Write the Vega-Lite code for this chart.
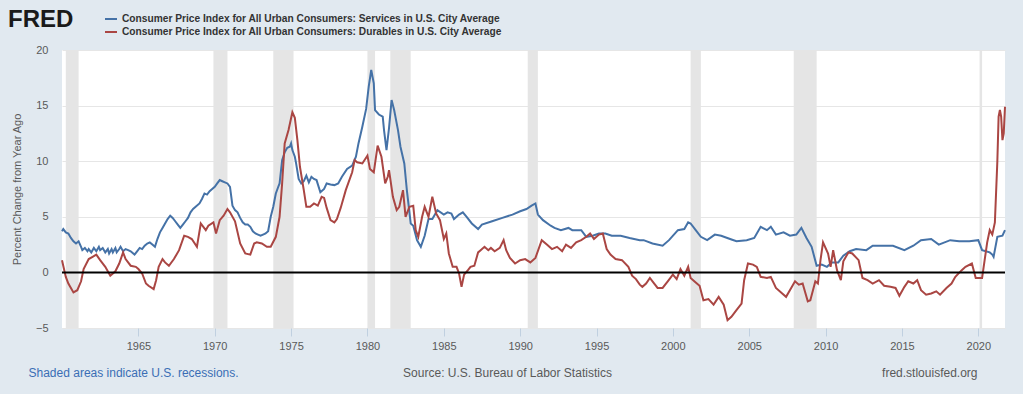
{
  "$schema": "https://vega.github.io/schema/vega-lite/v6.json",
  "width": 943,
  "height": 278,
  "autosize": {"type": "none"},
  "padding": {"left": 62, "top": 50, "right": 18, "bottom": 66},
  "background": "#e1e9f0",
  "config": {
    "font": "Liberation Sans",
    "view": {"fill": "#ffffff", "stroke": null}
  },
  "datasets": {
    "recessions": [
      {"start": "1960-04", "end": "1961-02"},
      {"start": "1969-12", "end": "1970-11"},
      {"start": "1973-11", "end": "1975-03"},
      {"start": "1980-01", "end": "1980-07"},
      {"start": "1981-07", "end": "1982-11"},
      {"start": "1990-07", "end": "1991-03"},
      {"start": "2001-03", "end": "2001-11"},
      {"start": "2007-12", "end": "2009-06"},
      {"start": "2020-02", "end": "2020-04"}
    ],
    "services": [
      {"date": "1960-01", "value": 3.7}, {"date": "1960-02", "value": 3.9}, {"date": "1960-04", "value": 3.6}, {"date": "1960-06", "value": 3.5},
      {"date": "1960-08", "value": 3.1}, {"date": "1960-10", "value": 2.8}, {"date": "1960-12", "value": 2.6}, {"date": "1961-02", "value": 2.8},
      {"date": "1961-04", "value": 2.3}, {"date": "1961-05", "value": 2.0}, {"date": "1961-07", "value": 2.2}, {"date": "1961-09", "value": 1.9},
      {"date": "1961-10", "value": 2.1}, {"date": "1961-12", "value": 1.8}, {"date": "1962-02", "value": 2.2}, {"date": "1962-04", "value": 1.9},
      {"date": "1962-06", "value": 2.3}, {"date": "1962-07", "value": 2.0}, {"date": "1962-09", "value": 2.2}, {"date": "1962-11", "value": 1.8},
      {"date": "1963-01", "value": 2.1}, {"date": "1963-02", "value": 1.7}, {"date": "1963-04", "value": 2.1}, {"date": "1963-05", "value": 1.8},
      {"date": "1963-07", "value": 2.2}, {"date": "1963-08", "value": 1.8}, {"date": "1963-10", "value": 2.1}, {"date": "1963-11", "value": 2.3},
      {"date": "1964-01", "value": 1.9}, {"date": "1964-03", "value": 2.1}, {"date": "1964-05", "value": 2.0}, {"date": "1964-07", "value": 1.9},
      {"date": "1964-09", "value": 1.7}, {"date": "1964-10", "value": 1.6}, {"date": "1964-12", "value": 1.9}, {"date": "1965-02", "value": 2.2},
      {"date": "1965-04", "value": 2.1}, {"date": "1965-06", "value": 2.4}, {"date": "1965-08", "value": 2.6}, {"date": "1965-10", "value": 2.7},
      {"date": "1965-12", "value": 2.5}, {"date": "1966-02", "value": 2.3}, {"date": "1966-04", "value": 3.0}, {"date": "1966-06", "value": 3.6},
      {"date": "1966-08", "value": 4.0}, {"date": "1966-10", "value": 4.4}, {"date": "1966-12", "value": 4.8}, {"date": "1967-02", "value": 5.1},
      {"date": "1967-04", "value": 4.9}, {"date": "1967-06", "value": 4.6}, {"date": "1967-08", "value": 4.3}, {"date": "1967-10", "value": 4.0},
      {"date": "1967-12", "value": 4.3}, {"date": "1968-02", "value": 4.6}, {"date": "1968-04", "value": 4.9}, {"date": "1968-06", "value": 5.4},
      {"date": "1968-08", "value": 5.7}, {"date": "1968-10", "value": 5.9}, {"date": "1969-01", "value": 6.2}, {"date": "1969-03", "value": 6.6},
      {"date": "1969-05", "value": 7.1}, {"date": "1969-07", "value": 7.0}, {"date": "1969-09", "value": 7.3}, {"date": "1969-11", "value": 7.5},
      {"date": "1970-01", "value": 7.7}, {"date": "1970-03", "value": 8.0}, {"date": "1970-05", "value": 8.3}, {"date": "1970-07", "value": 8.2},
      {"date": "1970-09", "value": 8.1}, {"date": "1970-11", "value": 8.0}, {"date": "1971-01", "value": 7.7}, {"date": "1971-03", "value": 6.0},
      {"date": "1971-05", "value": 5.6}, {"date": "1971-07", "value": 5.4}, {"date": "1971-09", "value": 4.9}, {"date": "1971-11", "value": 4.5},
      {"date": "1972-01", "value": 4.3}, {"date": "1972-03", "value": 4.3}, {"date": "1972-05", "value": 4.1}, {"date": "1972-07", "value": 3.7},
      {"date": "1972-09", "value": 3.5}, {"date": "1972-11", "value": 3.4}, {"date": "1973-01", "value": 3.3}, {"date": "1973-03", "value": 3.4},
      {"date": "1973-05", "value": 3.5}, {"date": "1973-07", "value": 3.7}, {"date": "1973-09", "value": 5.0}, {"date": "1973-11", "value": 5.9},
      {"date": "1974-01", "value": 7.1}, {"date": "1974-03", "value": 7.7}, {"date": "1974-04", "value": 8.0}, {"date": "1974-06", "value": 10.1},
      {"date": "1974-08", "value": 10.8}, {"date": "1974-10", "value": 11.2}, {"date": "1974-12", "value": 11.3}, {"date": "1975-01", "value": 11.6},
      {"date": "1975-02", "value": 11.0}, {"date": "1975-04", "value": 10.4}, {"date": "1975-05", "value": 9.8}, {"date": "1975-07", "value": 8.4},
      {"date": "1975-09", "value": 8.0}, {"date": "1975-11", "value": 8.2}, {"date": "1976-01", "value": 8.7}, {"date": "1976-03", "value": 8.1},
      {"date": "1976-05", "value": 8.6}, {"date": "1976-07", "value": 8.4}, {"date": "1976-09", "value": 8.3}, {"date": "1976-12", "value": 7.2},
      {"date": "1977-03", "value": 7.5}, {"date": "1977-05", "value": 8.0}, {"date": "1977-08", "value": 7.9}, {"date": "1977-11", "value": 7.85},
      {"date": "1978-02", "value": 8.0}, {"date": "1978-05", "value": 8.6}, {"date": "1978-09", "value": 9.3}, {"date": "1979-01", "value": 9.6},
      {"date": "1979-04", "value": 10.4}, {"date": "1979-06", "value": 11.6}, {"date": "1979-09", "value": 13.1}, {"date": "1979-12", "value": 14.7},
      {"date": "1980-02", "value": 16.7}, {"date": "1980-04", "value": 18.2}, {"date": "1980-06", "value": 17.0}, {"date": "1980-07", "value": 14.6},
      {"date": "1980-10", "value": 14.2}, {"date": "1981-01", "value": 14.0}, {"date": "1981-02", "value": 12.8}, {"date": "1981-04", "value": 11.0},
      {"date": "1981-06", "value": 13.0}, {"date": "1981-08", "value": 15.5}, {"date": "1981-10", "value": 14.6}, {"date": "1982-01", "value": 12.8},
      {"date": "1982-03", "value": 11.3}, {"date": "1982-06", "value": 9.8}, {"date": "1982-08", "value": 7.4}, {"date": "1982-11", "value": 4.4},
      {"date": "1983-01", "value": 4.2}, {"date": "1983-04", "value": 2.9}, {"date": "1983-07", "value": 2.3}, {"date": "1983-10", "value": 3.3},
      {"date": "1984-01", "value": 4.8}, {"date": "1984-04", "value": 4.8}, {"date": "1984-08", "value": 5.6}, {"date": "1985-01", "value": 5.2},
      {"date": "1985-04", "value": 5.4}, {"date": "1985-07", "value": 5.3}, {"date": "1985-09", "value": 4.8}, {"date": "1986-01", "value": 5.2},
      {"date": "1986-04", "value": 5.4}, {"date": "1986-07", "value": 5.0}, {"date": "1986-11", "value": 4.4}, {"date": "1987-04", "value": 3.9},
      {"date": "1987-07", "value": 4.3}, {"date": "1988-03", "value": 4.6}, {"date": "1988-11", "value": 4.9}, {"date": "1989-07", "value": 5.2},
      {"date": "1990-01", "value": 5.5}, {"date": "1990-06", "value": 5.7}, {"date": "1990-10", "value": 6.0}, {"date": "1991-01", "value": 6.2},
      {"date": "1991-03", "value": 5.2}, {"date": "1991-07", "value": 4.7}, {"date": "1992-01", "value": 4.2}, {"date": "1992-04", "value": 4.0},
      {"date": "1992-09", "value": 3.8}, {"date": "1993-03", "value": 4.0}, {"date": "1993-06", "value": 3.8}, {"date": "1994-01", "value": 3.8},
      {"date": "1994-05", "value": 3.2}, {"date": "1994-10", "value": 3.3}, {"date": "1995-03", "value": 3.5}, {"date": "1995-08", "value": 3.5},
      {"date": "1996-01", "value": 3.3}, {"date": "1996-08", "value": 3.3}, {"date": "1997-03", "value": 3.1}, {"date": "1997-11", "value": 2.9},
      {"date": "1998-02", "value": 2.9}, {"date": "1998-09", "value": 2.6}, {"date": "1999-05", "value": 2.4}, {"date": "1999-10", "value": 2.9},
      {"date": "2000-05", "value": 3.8}, {"date": "2000-10", "value": 3.9}, {"date": "2001-01", "value": 4.5}, {"date": "2001-03", "value": 4.4},
      {"date": "2001-07", "value": 3.8}, {"date": "2001-11", "value": 3.2}, {"date": "2002-04", "value": 2.9}, {"date": "2002-10", "value": 3.4},
      {"date": "2003-03", "value": 3.3}, {"date": "2003-10", "value": 3.0}, {"date": "2004-03", "value": 2.8}, {"date": "2004-11", "value": 2.9},
      {"date": "2005-05", "value": 3.1}, {"date": "2005-10", "value": 4.1}, {"date": "2006-03", "value": 3.8}, {"date": "2006-06", "value": 4.1},
      {"date": "2006-10", "value": 3.4}, {"date": "2007-04", "value": 3.6}, {"date": "2007-09", "value": 3.3}, {"date": "2008-02", "value": 3.4},
      {"date": "2008-06", "value": 4.0}, {"date": "2008-10", "value": 3.1}, {"date": "2009-02", "value": 2.3}, {"date": "2009-06", "value": 0.6},
      {"date": "2009-10", "value": 0.7}, {"date": "2010-02", "value": 0.5}, {"date": "2010-06", "value": 0.9}, {"date": "2010-11", "value": 0.9},
      {"date": "2011-03", "value": 1.5}, {"date": "2011-08", "value": 1.9}, {"date": "2012-01", "value": 2.1}, {"date": "2012-09", "value": 2.0},
      {"date": "2013-02", "value": 2.4}, {"date": "2013-10", "value": 2.4}, {"date": "2014-06", "value": 2.4}, {"date": "2015-03", "value": 2.0},
      {"date": "2015-10", "value": 2.4}, {"date": "2016-04", "value": 2.9}, {"date": "2016-12", "value": 3.0}, {"date": "2017-06", "value": 2.5},
      {"date": "2018-03", "value": 2.9}, {"date": "2018-10", "value": 2.8}, {"date": "2019-06", "value": 2.8}, {"date": "2020-01", "value": 2.9},
      {"date": "2020-04", "value": 2.0}, {"date": "2020-07", "value": 1.9}, {"date": "2020-10", "value": 1.8}, {"date": "2020-12", "value": 1.6},
      {"date": "2021-01", "value": 1.4}, {"date": "2021-04", "value": 3.2}, {"date": "2021-08", "value": 3.3}, {"date": "2021-10", "value": 3.8}
    ],
    "durables": [
      {"date": "1960-01", "value": 1.1}, {"date": "1960-04", "value": -0.4}, {"date": "1960-06", "value": -1.0}, {"date": "1960-10", "value": -1.8},
      {"date": "1961-01", "value": -1.6}, {"date": "1961-04", "value": -0.8}, {"date": "1961-06", "value": 0.3}, {"date": "1961-10", "value": 1.2},
      {"date": "1962-01", "value": 1.4}, {"date": "1962-04", "value": 1.6}, {"date": "1962-07", "value": 1.1}, {"date": "1962-11", "value": 0.5},
      {"date": "1963-03", "value": -0.3}, {"date": "1963-07", "value": 0.1}, {"date": "1963-10", "value": 0.8}, {"date": "1964-01", "value": 1.8},
      {"date": "1964-03", "value": 1.2}, {"date": "1964-07", "value": 0.6}, {"date": "1964-11", "value": 0.5}, {"date": "1965-01", "value": 0.3},
      {"date": "1965-04", "value": -0.1}, {"date": "1965-07", "value": -1.0}, {"date": "1965-09", "value": -1.2}, {"date": "1966-01", "value": -1.5},
      {"date": "1966-03", "value": -0.7}, {"date": "1966-05", "value": 0.5}, {"date": "1966-08", "value": 1.2}, {"date": "1966-10", "value": 0.9},
      {"date": "1967-01", "value": 0.6}, {"date": "1967-05", "value": 1.2}, {"date": "1967-09", "value": 2.0}, {"date": "1968-01", "value": 3.3},
      {"date": "1968-04", "value": 3.2}, {"date": "1968-07", "value": 3.0}, {"date": "1968-11", "value": 2.3}, {"date": "1969-02", "value": 4.4},
      {"date": "1969-06", "value": 3.8}, {"date": "1969-08", "value": 4.2}, {"date": "1969-12", "value": 4.5}, {"date": "1970-02", "value": 3.5},
      {"date": "1970-05", "value": 4.7}, {"date": "1970-08", "value": 5.1}, {"date": "1970-11", "value": 5.7}, {"date": "1971-01", "value": 5.4},
      {"date": "1971-05", "value": 4.6}, {"date": "1971-09", "value": 2.6}, {"date": "1972-01", "value": 1.7}, {"date": "1972-05", "value": 1.6},
      {"date": "1972-08", "value": 2.6}, {"date": "1972-10", "value": 2.7}, {"date": "1973-02", "value": 2.6}, {"date": "1973-06", "value": 2.3},
      {"date": "1973-09", "value": 2.3}, {"date": "1974-01", "value": 3.2}, {"date": "1974-04", "value": 5.0}, {"date": "1974-06", "value": 8.0},
      {"date": "1974-08", "value": 11.6}, {"date": "1974-11", "value": 12.8}, {"date": "1975-02", "value": 14.4}, {"date": "1975-04", "value": 13.9},
      {"date": "1975-06", "value": 11.9}, {"date": "1975-08", "value": 9.5}, {"date": "1975-11", "value": 7.4}, {"date": "1976-01", "value": 5.9},
      {"date": "1976-04", "value": 5.9}, {"date": "1976-07", "value": 6.2}, {"date": "1976-10", "value": 6.0}, {"date": "1977-01", "value": 6.8},
      {"date": "1977-03", "value": 6.7}, {"date": "1977-05", "value": 5.8}, {"date": "1977-08", "value": 4.7}, {"date": "1977-11", "value": 4.5},
      {"date": "1978-01", "value": 4.8}, {"date": "1978-04", "value": 5.8}, {"date": "1978-08", "value": 7.4}, {"date": "1979-01", "value": 9.0},
      {"date": "1979-03", "value": 10.1}, {"date": "1979-05", "value": 9.9}, {"date": "1979-09", "value": 9.8}, {"date": "1980-01", "value": 10.5},
      {"date": "1980-03", "value": 9.3}, {"date": "1980-06", "value": 9.0}, {"date": "1980-09", "value": 11.4}, {"date": "1980-12", "value": 10.4},
      {"date": "1981-03", "value": 8.0}, {"date": "1981-05", "value": 8.6}, {"date": "1981-06", "value": 9.2}, {"date": "1981-09", "value": 6.8},
      {"date": "1981-12", "value": 5.6}, {"date": "1982-02", "value": 5.9}, {"date": "1982-05", "value": 7.4}, {"date": "1982-07", "value": 5.0},
      {"date": "1982-10", "value": 5.9}, {"date": "1983-01", "value": 6.0}, {"date": "1983-03", "value": 3.8}, {"date": "1983-05", "value": 3.2},
      {"date": "1983-08", "value": 5.0}, {"date": "1983-10", "value": 5.9}, {"date": "1984-01", "value": 5.0}, {"date": "1984-04", "value": 6.8},
      {"date": "1984-07", "value": 5.3}, {"date": "1984-10", "value": 4.7}, {"date": "1985-01", "value": 3.0}, {"date": "1985-03", "value": 3.5},
      {"date": "1985-05", "value": 1.7}, {"date": "1985-08", "value": 0.5}, {"date": "1985-11", "value": 0.5}, {"date": "1986-01", "value": -0.1},
      {"date": "1986-03", "value": -1.3}, {"date": "1986-05", "value": -0.2}, {"date": "1986-08", "value": 0.2}, {"date": "1986-10", "value": 0.5},
      {"date": "1987-01", "value": 0.6}, {"date": "1987-04", "value": 1.8}, {"date": "1987-06", "value": 2.0}, {"date": "1987-09", "value": 2.3},
      {"date": "1987-12", "value": 2.0}, {"date": "1988-02", "value": 2.2}, {"date": "1988-05", "value": 1.9}, {"date": "1988-09", "value": 2.2},
      {"date": "1988-12", "value": 2.9}, {"date": "1989-02", "value": 2.0}, {"date": "1989-05", "value": 1.3}, {"date": "1989-09", "value": 0.8},
      {"date": "1990-01", "value": 1.1}, {"date": "1990-05", "value": 1.2}, {"date": "1990-09", "value": 0.9}, {"date": "1991-01", "value": 1.3},
      {"date": "1991-06", "value": 2.9}, {"date": "1991-10", "value": 2.5}, {"date": "1992-02", "value": 2.1}, {"date": "1992-06", "value": 2.3},
      {"date": "1992-10", "value": 1.9}, {"date": "1993-01", "value": 2.5}, {"date": "1993-05", "value": 2.2}, {"date": "1993-09", "value": 2.7},
      {"date": "1994-01", "value": 2.9}, {"date": "1994-05", "value": 3.2}, {"date": "1994-08", "value": 3.5}, {"date": "1994-11", "value": 3.0},
      {"date": "1995-03", "value": 3.4}, {"date": "1995-06", "value": 3.5}, {"date": "1995-09", "value": 2.1}, {"date": "1995-12", "value": 1.6},
      {"date": "1996-04", "value": 1.2}, {"date": "1996-09", "value": 1.1}, {"date": "1997-02", "value": 0.5}, {"date": "1997-05", "value": -0.3},
      {"date": "1997-08", "value": -0.6}, {"date": "1997-11", "value": -1.1}, {"date": "1998-01", "value": -1.3}, {"date": "1998-04", "value": -1.0},
      {"date": "1998-07", "value": -0.5}, {"date": "1998-09", "value": -0.8}, {"date": "1999-01", "value": -1.4}, {"date": "1999-05", "value": -1.4},
      {"date": "1999-09", "value": -0.8}, {"date": "2000-01", "value": -0.2}, {"date": "2000-04", "value": -0.6}, {"date": "2000-07", "value": 0.3},
      {"date": "2000-10", "value": -0.3}, {"date": "2001-01", "value": 0.5}, {"date": "2001-03", "value": -0.5}, {"date": "2001-07", "value": -0.9},
      {"date": "2001-10", "value": -1.2}, {"date": "2002-01", "value": -2.5}, {"date": "2002-05", "value": -2.4}, {"date": "2002-09", "value": -2.9},
      {"date": "2003-01", "value": -2.2}, {"date": "2003-05", "value": -2.9}, {"date": "2003-08", "value": -4.3}, {"date": "2003-11", "value": -4.0},
      {"date": "2004-03", "value": -3.4}, {"date": "2004-07", "value": -2.8}, {"date": "2004-09", "value": -0.7}, {"date": "2004-12", "value": 0.8},
      {"date": "2005-04", "value": 0.7}, {"date": "2005-07", "value": 0.5}, {"date": "2005-10", "value": -0.4}, {"date": "2006-03", "value": -0.5},
      {"date": "2006-06", "value": -0.4}, {"date": "2006-10", "value": -1.4}, {"date": "2007-03", "value": -1.9}, {"date": "2007-06", "value": -2.2},
      {"date": "2007-10", "value": -1.4}, {"date": "2008-01", "value": -0.8}, {"date": "2008-04", "value": -1.1}, {"date": "2008-07", "value": -1.0},
      {"date": "2008-11", "value": -2.6}, {"date": "2009-01", "value": -2.5}, {"date": "2009-05", "value": -0.8}, {"date": "2009-07", "value": -1.0},
      {"date": "2009-09", "value": 1.1}, {"date": "2009-11", "value": 2.7}, {"date": "2010-03", "value": 1.7}, {"date": "2010-05", "value": 0.5},
      {"date": "2010-07", "value": 2.0}, {"date": "2010-10", "value": 0.2}, {"date": "2011-01", "value": -0.7}, {"date": "2011-03", "value": 1.0},
      {"date": "2011-07", "value": 1.8}, {"date": "2011-10", "value": 1.7}, {"date": "2012-03", "value": 1.1}, {"date": "2012-06", "value": -0.5},
      {"date": "2012-10", "value": -0.7}, {"date": "2013-02", "value": -1.0}, {"date": "2013-07", "value": -0.7}, {"date": "2013-11", "value": -1.2},
      {"date": "2014-04", "value": -1.3}, {"date": "2014-08", "value": -1.4}, {"date": "2014-11", "value": -2.1}, {"date": "2015-03", "value": -1.3},
      {"date": "2015-06", "value": -0.8}, {"date": "2015-10", "value": -1.0}, {"date": "2016-01", "value": -0.7}, {"date": "2016-04", "value": -1.6},
      {"date": "2016-08", "value": -2.0}, {"date": "2016-12", "value": -1.9}, {"date": "2017-04", "value": -1.7}, {"date": "2017-07", "value": -2.0},
      {"date": "2017-12", "value": -1.4}, {"date": "2018-04", "value": -1.0}, {"date": "2018-07", "value": -0.4}, {"date": "2018-12", "value": 0.2},
      {"date": "2019-03", "value": 0.5}, {"date": "2019-08", "value": 0.8}, {"date": "2019-11", "value": -0.5}, {"date": "2020-01", "value": -0.5},
      {"date": "2020-04", "value": -0.5}, {"date": "2020-06", "value": 1.1}, {"date": "2020-08", "value": 2.7}, {"date": "2020-10", "value": 3.8},
      {"date": "2020-12", "value": 3.4}, {"date": "2021-02", "value": 4.5}, {"date": "2021-04", "value": 10.0}, {"date": "2021-05", "value": 14.0},
      {"date": "2021-06", "value": 14.6}, {"date": "2021-07", "value": 14.0}, {"date": "2021-08", "value": 11.9}, {"date": "2021-09", "value": 12.5},
      {"date": "2021-10", "value": 14.9}
    ]
  },
  "layer": [
    {
      "data": {"name": "recessions"},
      "mark": {"type": "rect", "color": "#e5e5e5"},
      "encoding": {
        "x": {
          "field": "start", "type": "temporal",
          "scale": {"type": "utc", "domain": [{"year": 1960, "month": 1, "date": 1, "utc": true}, {"year": 2021, "month": 10, "date": 1, "utc": true}], "nice": false},
          "axis": {
            "orient": "top", "labels": false, "ticks": false, "domain": false, "grid": false,
            "title": "Shaded areas indicate U.S. recessions.",
            "titleX": -34, "titleY": 322, "titleAlign": "left", "titleBaseline": "middle",
            "titleFontSize": 12, "titleFontWeight": "normal", "titleColor": "#3a6eb5"
          }
        },
        "x2": {"field": "end"}
      }
    },
    {
      "layer": [
        {
          "data": {"name": "services"},
          "mark": {"type": "line", "strokeWidth": 2},
          "encoding": {
            "x": {"field": "date", "type": "temporal"},
            "y": {"field": "value", "type": "quantitative"},
            "color": {"datum": "Consumer Price Index for All Urban Consumers: Services in U.S. City Average"}
          }
        },
        {
          "data": {"name": "durables"},
          "mark": {"type": "line", "strokeWidth": 2},
          "encoding": {
            "x": {"field": "date", "type": "temporal"},
            "y": {"field": "value", "type": "quantitative"},
            "color": {"datum": "Consumer Price Index for All Urban Consumers: Durables in U.S. City Average"}
          }
        }
      ],
      "encoding": {
        "x": {
          "field": "date", "type": "temporal",
          "scale": {"type": "utc", "domain": [{"year": 1960, "month": 1, "date": 1, "utc": true}, {"year": 2021, "month": 10, "date": 1, "utc": true}], "nice": false},
          "axis": {
            "orient": "bottom",
            "values": [
              {"year": 1965, "utc": true}, {"year": 1970, "utc": true}, {"year": 1975, "utc": true}, {"year": 1980, "utc": true},
              {"year": 1985, "utc": true}, {"year": 1990, "utc": true}, {"year": 1995, "utc": true}, {"year": 2000, "utc": true},
              {"year": 2005, "utc": true}, {"year": 2010, "utc": true}, {"year": 2015, "utc": true}, {"year": 2020, "utc": true}
            ],
            "format": "%Y", "labelFlush": false, "labelOverlap": false,
            "domain": false, "grid": false, "tickSize": 8, "tickColor": "#c0d0e0",
            "labelPadding": 4, "labelFontSize": 11, "labelColor": "#595959",
            "title": "Source: U.S. Bureau of Labor Statistics",
            "titleX": 445, "titleY": 44, "titleAlign": "center", "titleBaseline": "middle",
            "titleFontSize": 12, "titleFontWeight": "normal", "titleColor": "#595959"
          }
        },
        "y": {
          "field": "value", "type": "quantitative",
          "scale": {"domain": [-5, 20], "nice": false, "zero": false},
          "axis": {
            "values": [-5, 0, 5, 10, 15, 20], "grid": true, "gridColor": "#e6e6e6",
            "ticks": false, "domain": false, "labelPadding": 14, "labelFontSize": 11, "labelColor": "#595959",
            "title": "Percent Change from Year Ago",
            "titleX": -45, "titleY": 139, "titleAlign": "center", "titleBaseline": "middle",
            "titleFontSize": 11, "titleFontWeight": "normal", "titleColor": "#595959"
          }
        },
        "color": {
          "type": "nominal",
          "scale": {
            "domain": ["Consumer Price Index for All Urban Consumers: Services in U.S. City Average", "Consumer Price Index for All Urban Consumers: Durables in U.S. City Average"],
            "range": ["#4572a7", "#aa4643"]
          },
          "legend": {
            "orient": "none", "legendX": -54, "legendY": -38, "padding": 0,
            "title": "FRED", "titleOrient": "left", "titleFontSize": 24, "titleFontWeight": "bold",
            "titleColor": "#1a1a1a", "titlePadding": 30, "titleAnchor": "start", "titleBaseline": "line-top", "titleLineHeight": 16,
            "symbolType": "stroke", "symbolStrokeWidth": 2, "symbolSize": 144,
            "labelFontSize": 10.2, "labelFontWeight": "bold", "labelColor": "#333333", "labelLimit": 0,
            "labelOffset": 4, "rowPadding": 0
          }
        }
      }
    },
    {
      "data": {"values": [{}]},
      "mark": {"type": "rule", "color": "#000000", "strokeWidth": 2},
      "encoding": {
        "y": {
          "datum": 0, "type": "quantitative",
          "scale": {"domain": [-5, 20], "nice": false, "zero": false},
          "axis": {
            "orient": "right", "labels": false, "ticks": false, "domain": false, "grid": false,
            "title": "fred.stlouisfed.org", "titleAngle": 0,
            "titleX": -28, "titleY": 322, "titleAlign": "right", "titleBaseline": "middle",
            "titleFontSize": 12, "titleFontWeight": "normal", "titleColor": "#595959"
          }
        }
      }
    }
  ],
  "resolve": {"scale": {"x": "independent", "y": "independent"}, "axis": {"x": "independent", "y": "independent"}}
}
